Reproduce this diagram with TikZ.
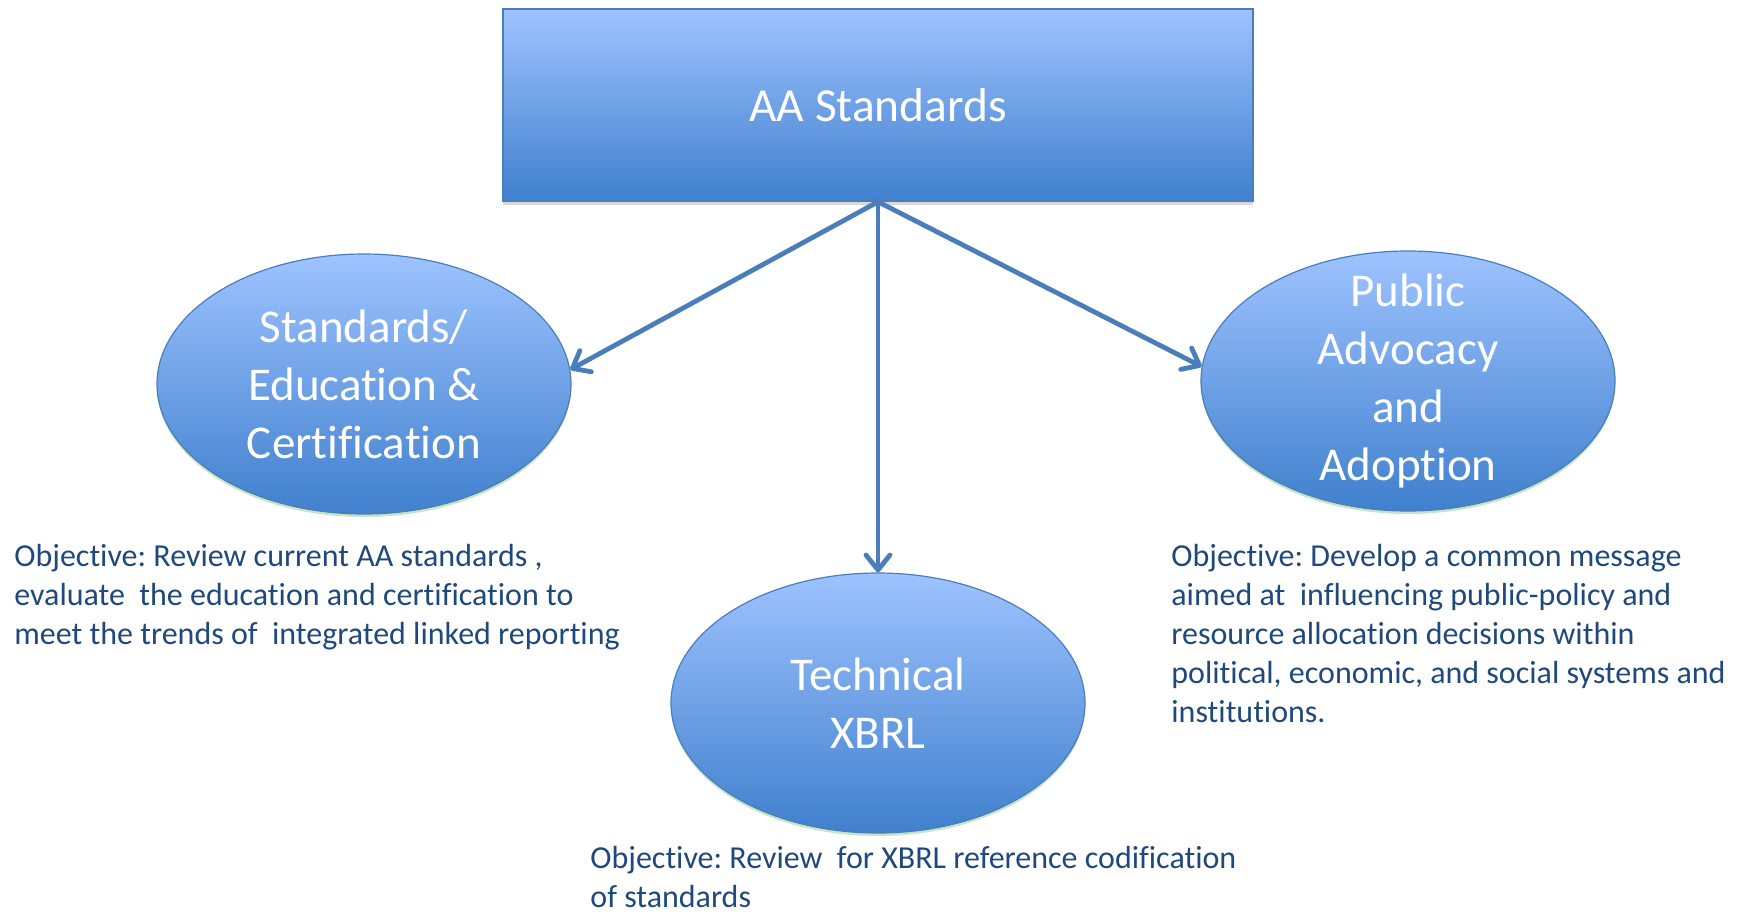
\documentclass[tikz,border=0pt]{standalone}
\usepackage{fontspec}
\setmainfont{Carlito}[Ligatures=CommonOff]
\usetikzlibrary{shapes.geometric, arrows.meta, shadows}
\frenchspacing
\definecolor{fill_top}{RGB}{158,195,255}
\definecolor{fill_bottom}{RGB}{64,128,205}
\definecolor{border_blue}{RGB}{74,126,187}
\definecolor{arrow_blue}{RGB}{74,126,187}
\definecolor{text_blue}{RGB}{31,73,125}
\definecolor{glow_green}{RGB}{140,205,140}
\tikzset{
every picture/.style={x=0.5pt, y=-0.5pt},
%%%%%%%%%%  Node styles
root_box/.style={rectangle, draw=border_blue, line width=0.8pt,
                 top color=fill_top, bottom color=fill_bottom,
                 minimum width=375pt, minimum height=96pt, text=white,
                 font=\fontsize{23.7}{29}\selectfont,
                 drop shadow={shadow xshift=0pt, shadow yshift=-2pt, opacity=0.3}},
goal_ellipse/.style={ellipse, draw=border_blue, line width=0.6pt,
                 top color=fill_top, bottom color=fill_bottom,
                 minimum width=207pt, minimum height=130pt,
                 inner xsep=0pt, inner ysep=-14pt, align=center, text=white,
                 font=\fontsize{23.5}{29}\selectfont,
                 drop shadow={shadow xshift=0pt, shadow yshift=-1.5pt,
                              fill=glow_green, opacity=0.5}},
%% text under the goals; align=left for the multiline text
objective/.style={anchor=north west, inner sep=0pt, align=left,
                 text=text_blue, font=\fontsize{16}{19.5}\selectfont},
%%%%%%% arrows from the top box
branch/.style={draw=arrow_blue, line width=2.4pt,
               -{Straight Barb[length=7.5pt,width=12pt,round]}}
}

\begin{document}
\begin{tikzpicture}
\useasboundingbox (0,0) rectangle (1745,916);
%% the top box and the three goals
\node[root_box] (aa) at (878,105) {AA Standards};
\node[goal_ellipse] (edu) at (364,384) {Standards/\\Education \&\\Certification};
\node[goal_ellipse] (tech) at (878,703) {Technical\\XBRL};
\node[goal_ellipse] (adv) at (1408,381) {Public\\Advocacy\\and\\Adoption};
%% arrows
\draw[branch] (aa.south) -- (edu.4);
\draw[branch] (aa.south) -- (tech.north);
\draw[branch] (aa.south) -- (adv.176);
%% objectives
\node[objective] (edu_obj) at (14,544) {Objective: Review current AA standards ,\\
	evaluate\ \ the education and certification to\\
	meet the trends of\ \ integrated linked reporting};
\node[objective] (tech_obj) at (590,846) {Objective: Review\ \ for XBRL reference codification\\
	of standards};
\node[objective] (adv_obj) at (1171,544) {Objective: Develop a common message\\
	aimed at\ \ influencing public-policy and\\
	resource allocation decisions within\\
	political, economic, and social systems and\\
	institutions.};
\end{tikzpicture}
\end{document}
